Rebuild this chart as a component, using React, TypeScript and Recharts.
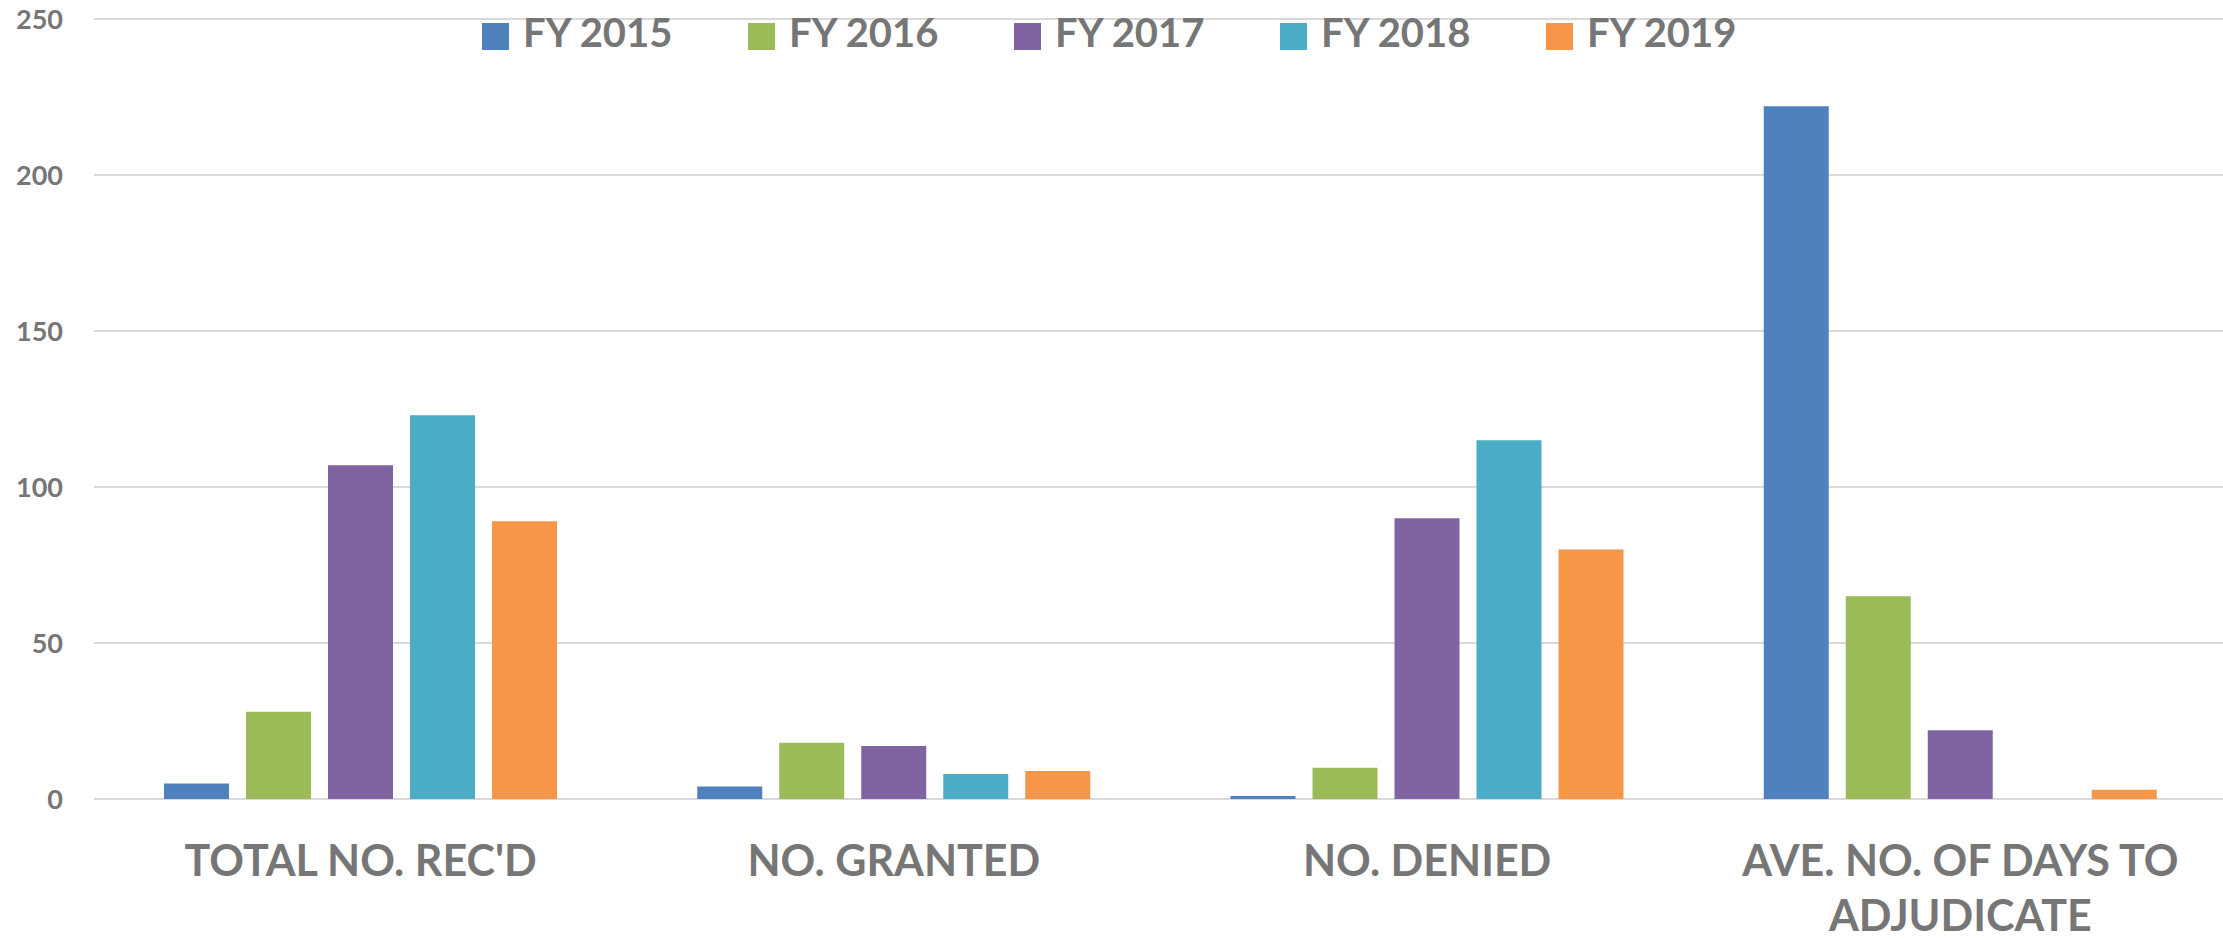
import React from "react";
import { BarChart, Bar, XAxis, YAxis, CartesianGrid, Legend } from "recharts";

const categories = [
  "TOTAL NO. REC'D",
  "NO. GRANTED",
  "NO. DENIED",
  "AVE. NO. OF DAYS TO ADJUDICATE",
];
const fy2015 = [5, 4, 1, 222];
const fy2016 = [28, 18, 10, 65];
const fy2017 = [107, 17, 90, 22];
const fy2018 = [123, 8, 115, 0];
const fy2019 = [89, 9, 80, 3];
const yTicks = [0, 50, 100, 150, 200, 250];

const seriesNames = ["FY 2015", "FY 2016", "FY 2017", "FY 2018", "FY 2019"];
const seriesColors = ["#4F81BD", "#9BBB59", "#8064A2", "#4BACC6", "#F79646"];
const seriesValues = [fy2015, fy2016, fy2017, fy2018, fy2019];

const data = categories.map((name, i) => {
  const row: Record<string, string | number> = { name };
  seriesNames.forEach((s, j) => {
    row[s] = seriesValues[j][i];
  });
  return row;
});

const GRAY = "#767676";
const FONT = "Lato, 'Open Sans', sans-serif";

// wrap a label into lines of at most maxChars characters
const wrap = (label: string, maxChars: number) => {
  const lines: string[] = [];
  let cur = "";
  label.split(" ").forEach((w) => {
    const next = cur ? cur + " " + w : w;
    if (next.length > maxChars && cur) {
      lines.push(cur);
      cur = w;
    } else {
      cur = next;
    }
  });
  if (cur) lines.push(cur);
  return lines;
};

const CategoryTick = (props: any) => {
  const { x, y, payload } = props;
  const lines = wrap(String(payload.value), 22);
  return (
    <text
      x={x}
      y={y}
      textAnchor="middle"
      fill={GRAY}
      fontFamily={FONT}
      fontWeight={700}
      fontSize={43}
    >
      {lines.map((l, i) => (
        <tspan key={i} x={x} dy={i === 0 ? "0.71em" : 55}>
          {l}
        </tspan>
      ))}
    </text>
  );
};

const LegendContent = () => (
  <div style={{ display: "flex", alignItems: "center" }}>
    {seriesNames.map((s, i) => (
      <div key={s} style={{ width: 266, display: "flex", alignItems: "center" }}>
        <span
          style={{
            width: 27,
            height: 27,
            background: seriesColors[i],
            position: "relative",
            top: 4,
            marginRight: 14,
            display: "inline-block",
          }}
        />
        <span
          style={{
            fontFamily: FONT,
            fontWeight: 700,
            fontSize: 40,
            lineHeight: "48px",
            color: GRAY,
          }}
        >
          {s}
        </span>
      </div>
    ))}
  </div>
);

export default function App() {
  return (
    <div style={{ width: 2223, height: 939, overflow: "hidden", background: "#fff" }}>
      <style>{`html, body { margin: 0; overflow: hidden; }`}</style>
      <BarChart
        width={2227}
        height={939}
        data={data}
        margin={{ top: 19, right: 0, bottom: 0, left: 0 }}
        barSize={65}
        barGap={17}
      >
        <CartesianGrid vertical={false} stroke="#d9d9d9" strokeWidth={2} />
        <XAxis
          dataKey="name"
          height={140}
          axisLine={false}
          tickLine={false}
          tickSize={0}
          tickMargin={46}
          interval={0}
          tick={<CategoryTick />}
        />
        <YAxis
          width={94}
          domain={[0, 250]}
          ticks={yTicks}
          axisLine={false}
          tickLine={false}
          tickSize={0}
          tickMargin={31}
          tick={{ fontFamily: FONT, fontWeight: 700, fontSize: 27, fill: GRAY }}
        />
        <Legend
          verticalAlign="middle"
          align="center"
          content={<LegendContent />}
          wrapperStyle={{ left: 482, top: 8, width: 1400 }}
        />
        {seriesNames.map((s, i) => (
          <Bar key={s} dataKey={s} fill={seriesColors[i]} isAnimationActive={false} />
        ))}
      </BarChart>
    </div>
  );
}
